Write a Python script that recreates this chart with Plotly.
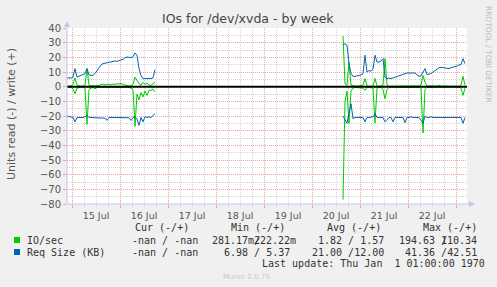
import plotly.graph_objects as go
import pandas as pd

# ---------------- data ----------------
seg1_start = "2024-07-14 21:30"   # first block of samples (hourly)
seg2_start = "2024-07-20 15:30"   # second block of samples (hourly)

ios_read_1 = [-0.3, -0.3, -0.5, -1.5, -4.8, -1.0, -0.5, -0.3, -0.5, -1.0,
              -25.7, -2.0, -1.0, -0.5, -1.5, -0.5, -0.3, -0.3, -0.5, -0.3,
              -0.3, -0.5, -0.3, -0.3, -0.3, -0.5, -0.3, -0.3, -0.5, -0.3,
              -0.3, -0.5, -1.0, -2.0, -27.0, -5.0, -9.0, -4.0, -7.0, -3.0,
              -6.0, -2.5, -2.5, -1.5, -3.5]
ios_write_1 = [0.3, 0.3, 0.5, 1.5, 6.0, 1.0, 0.5, 0.3, 0.5, 1.0,
               12.3, 1.0, 0.5, 0.8, 0.5, 0.5, 0.8, 1.5, 1.8, 1.2,
               1.8, 1.5, 1.2, 1.8, 1.5, 2.0, 1.8, 2.2, 1.5, 1.0,
               0.8, 0.5, 0.8, 1.5, 6.5, 4.3, 2.0, 1.0, 3.0, 1.5,
               2.5, 1.0, 0.8, 2.0, 3.1]
size_read_1 = [-20.0, -20.5, -21.0, -21.0, -24.0, -21.0, -21.0, -21.2, -21.0, -20.5,
               -19.6, -21.0, -21.0, -21.0, -21.0, -21.2, -21.0, -21.0, -21.2, -21.5,
               -23.0, -21.0, -21.0, -21.0, -20.8, -21.0, -21.0, -21.0, -21.0, -21.0,
               -21.0, -21.2, -23.0, -21.0, -20.5, -22.0, -26.4, -21.0, -24.0, -20.5,
               -21.0, -20.5, -21.0, -19.5, -18.4]
size_write_1 = [6.1, 6.0, 5.9, 6.5, 12.3, 6.5, 7.0, 7.5, 8.0, 8.9,
                12.3, 8.0, 7.7, 7.8, 9.0, 11.1, 13.5, 14.8, 15.7, 16.0,
                16.5, 16.8, 17.0, 17.2, 17.5, 17.3, 17.9, 18.0, 18.6, 19.8,
                20.2, 20.0, 19.8, 20.5, 23.0, 21.4, 12.3, 7.7, 5.5, 5.5,
                5.4, 5.5, 5.6, 6.0, 11.6]

ios_read_2 = [-77.0, -10.0, -3.0, -25.0, -3.0, -1.0, -0.5, -0.5, -0.5, -0.5,
              -1.0, -2.5, -0.5, -0.5, -0.5, -1.0, -24.8, -1.0, -0.5, -0.5,
              -2.0, -8.2, -2.0, -0.5, -0.5, -0.5, -0.5, -0.3, -0.5, -0.3,
              -0.3, -0.5, -0.5, -0.3, -0.3, -0.3, -0.3, -0.3, -0.5, -1.0,
              -31.6, -2.0, -0.5, -0.5, -0.3, -0.3, -0.3, -0.3, -0.3, -0.3,
              -0.3, -0.3, -0.3, -0.3, -0.3, -0.3, -0.3, -0.3, -0.3, -1.0,
              -6.0, -1.0]
ios_write_2 = [34.5, 2.0, 1.0, 16.8, 1.0, 0.5, 0.5, 0.3, 0.5, 0.5,
               1.0, 5.5, 0.5, 0.3, 0.5, 0.5, 5.6, 0.5, 0.3, 0.5,
               1.0, 19.1, 1.0, 0.3, 0.3, 0.5, 0.3, 0.5, 0.3, 0.3,
               0.5, 0.3, 0.3, 0.5, 0.3, 0.3, 0.3, 0.5, 0.5, 1.0,
               7.7, 3.0, 0.5, 0.5, 0.3, 0.5, 0.5, 0.3, 1.0, 0.3,
               0.5, 0.3, 0.3, 0.3, 0.3, 0.3, 0.3, 0.3, 0.3, 1.0,
               7.0, 1.0]
size_read_2 = [-20.0, -23.0, -25.0, -18.0, -11.6, -21.8, -21.0, -21.0, -21.0, -21.0,
               -21.0, -24.0, -21.0, -21.0, -21.0, -20.5, -18.4, -21.0, -21.0, -21.0,
               -21.0, -24.0, -22.5, -21.0, -21.0, -24.0, -21.0, -21.0, -21.0, -20.5,
               -21.0, -24.5, -21.0, -21.0, -20.5, -21.0, -21.0, -21.0, -21.0, -23.0,
               -25.0, -20.0, -21.0, -21.0, -20.5, -21.0, -21.0, -21.0, -21.0, -21.0,
               -21.0, -21.0, -21.0, -21.0, -20.5, -21.0, -21.0, -21.0, -21.0, -21.0,
               -25.0, -21.0]
size_write_2 = [28.5, 29.3, 28.2, 15.7, 9.0, 7.0, 7.0, 7.2, 7.5, 8.0,
                8.9, 21.4, 10.0, 11.0, 10.5, 12.0, 21.4, 16.8, 16.8, 17.5,
                19.1, 6.5, 5.5, 5.8, 5.5, 6.0, 6.1, 6.5, 7.0, 7.7,
                8.0, 8.5, 9.3, 9.3, 9.3, 9.0, 9.3, 8.0, 7.0, 7.5,
                10.0, 12.3, 8.2, 8.5, 8.9, 10.0, 11.1, 12.5, 13.0, 13.2,
                13.0, 12.8, 12.5, 12.3, 13.0, 13.2, 13.4, 14.0, 14.8, 15.0,
                19.1, 15.7]

legend_header = ["Cur (-/+)", "Min (-/+)", "Avg (-/+)", "Max (-/+)"]
series_names = ["IO/sec", "Req Size (KB)"]
io_stats = ["-nan / -nan", "281.17m/", "222.22m", "1.82 / 1.57", "194.63 /", "110.34"]
size_stats = ["-nan / -nan", "6.98 / 5.37", "21.00 /12.00", "41.36 /42.51"]
last_update = "Last update: Thu Jan\u00a0\u00a01 01:00:00 1970"
title_text = "IOs for /dev/xvda - by week"
y_title = "Units read (-) / write (+)"
x_range = ["2024-07-14 21:30", "2024-07-23 05:30"]
y_range = [-80, 40]

GREEN = "#00CC00"
BLUE = "#0066B3"

# ---------------- build ----------------
t1 = pd.date_range(seg1_start, periods=len(ios_read_1), freq="1h")
t2 = pd.date_range(seg2_start, periods=len(ios_read_2), freq="1h")
gap = [pd.Timestamp("2024-07-18 00:00")]
x_all = list(t1) + gap + list(t2)


def join(a, b):
    return list(a) + [None] + list(b)


W, H = 497, 287
L, R, T, B = 67, 467, 28, 204


def px(x):
    return (x - L) / (R - L)


def py(y):
    return (B - y) / (B - T)


fig = go.Figure()
for y1, y2, col, nm in [
    (ios_read_1, ios_read_2, GREEN, "IO/sec read"),
    (ios_write_1, ios_write_2, GREEN, "IO/sec write"),
    (size_read_1, size_read_2, BLUE, "Req Size read"),
    (size_write_1, size_write_2, BLUE, "Req Size write"),
]:
    fig.add_trace(go.Scatter(x=x_all, y=join(y1, y2), mode="lines", name=nm,
                             line=dict(color=col, width=1), connectgaps=False,
                             showlegend=False, hoverinfo="skip"))

MAJ = "#E9A3A3"
MIN = "#D4D4D4"
AX = "#C4C4EC"
TXT = "#555555"
DOTS = "1px,1px"

fig.update_layout(
    width=W, height=H, autosize=False,
    margin=dict(l=L, r=W - R, t=T, b=H - B, pad=0),
    paper_bgcolor="#F0F0F0", plot_bgcolor="#FFFFFF",
    showlegend=False,
    font=dict(family="DejaVu Sans", size=10, color=TXT),
)
fig.update_xaxes(
    type="date", range=x_range, tick0="2024-07-15", dtick=86400000,
    tickformat="%d %b", ticklabelmode="period",
    showgrid=True, gridcolor=MAJ, griddash=DOTS, gridwidth=1,
    ticks="outside", ticklen=3, tickcolor=MAJ,
    minor=dict(dtick=21600000, showgrid=True, gridcolor=MIN, griddash=DOTS,
               ticks="outside", ticklen=2, tickcolor=MIN),
    showline=False, zeroline=False,
    tickfont=dict(family="DejaVu Sans", size=9.5, color=TXT),
)
fig.update_yaxes(
    range=y_range, dtick=10, tick0=0,
    showgrid=True, gridcolor=MAJ, griddash=DOTS, gridwidth=1,
    minor=dict(dtick=5, showgrid=True, gridcolor=MIN, griddash=DOTS),
    ticks="outside", ticklen=3, tickcolor=MAJ,
    showline=False, zeroline=False,
    tickfont=dict(family="DejaVu Sans", size=10, color=TXT),
)

shapes = []
# zero rule on top
shapes.append(dict(type="line", xref="paper", yref="y", x0=0, x1=1, y0=0, y1=0,
                   line=dict(color="#000000", width=2), layer="above"))
# axis lines with arrow heads
shapes.append(dict(type="line", xref="paper", yref="paper", x0=0, x1=0,
                   y0=0, y1=py(22), line=dict(color=AX, width=1), layer="above"))
shapes.append(dict(type="line", xref="paper", yref="paper", x0=0, x1=px(472),
                   y0=0, y1=0, line=dict(color=AX, width=1), layer="above"))
shapes.append(dict(type="path", xref="paper", yref="paper",
                   path=f"M {px(64)} {py(27)} L {px(70)} {py(27)} L {px(67)} {py(21)} Z",
                   fillcolor=AX, line=dict(width=0), layer="above"))
shapes.append(dict(type="path", xref="paper", yref="paper",
                   path=f"M {px(469)} {py(201)} L {px(469)} {py(207)} L {px(475)} {py(204)} Z",
                   fillcolor=AX, line=dict(width=0), layer="above"))
# legend swatches
shapes.append(dict(type="rect", xref="paper", yref="paper", x0=px(14), x1=px(20),
                   y0=py(243), y1=py(237), fillcolor=GREEN, line=dict(width=0)))
shapes.append(dict(type="rect", xref="paper", yref="paper", x0=px(14), x1=px(20),
                   y0=py(255), y1=py(249), fillcolor=BLUE, line=dict(width=0)))
fig.update_layout(shapes=shapes)

MONO = "DejaVu Sans Mono"
anns = []


def txt(s, x, y, size=10, fam=MONO, color="#333333", anchor="left", angle=0):
    anns.append(dict(text=s, x=px(x), y=py(y), xref="paper", yref="paper",
                     xanchor=anchor, yanchor="middle", showarrow=False,
                     textangle=angle, borderpad=0, borderwidth=0,
                     font=dict(family=fam, size=size, color=color)))


txt(title_text, 248, 18.5, size=12.5, fam="DejaVu Sans", color="#444444", anchor="center")
txt(y_title, 11, 114, size=11, fam="DejaVu Sans", color=TXT, anchor="center", angle=-90)
txt("RRDTOOL / TOBI OETIKER", 489, 54, size=7.5, fam="DejaVu Sans", color="#BBBBBB",
    anchor="center", angle=90)
for s, x in zip(legend_header, [135, 230.7, 326.7, 422.7]):
    txt(s, x, 227)
txt(series_names[0], 26.7, 240)
txt(series_names[1], 26.7, 252)
for s, x in zip(io_stats, [131.7, 212.3, 254.4, 318.3, 399, 441.1]):
    txt(s, x, 240)
for s, x in zip(size_stats, [131.7, 224.3, 312.3, 405]):
    txt(s, x, 252)
txt(last_update, 261.7, 263.5)
txt("Munin 2.0.75", 223, 276.5, size=7.2, fam="DejaVu Sans", color="#C8C8C8")
fig.update_layout(annotations=anns)

fig.write_html("out.html")
